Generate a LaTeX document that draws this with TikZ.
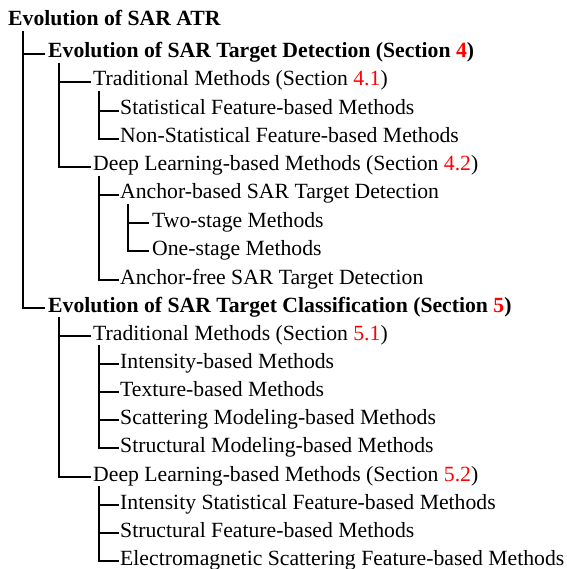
\documentclass[tikz,border=0pt]{standalone}
\usepackage{fontspec}
\setmainfont{Liberation Serif}
\definecolor{secred}{RGB}{255,0,0}
\begin{document}
\begin{tikzpicture}[x=1pt,y=-1pt,
  lbl/.style={anchor=base west, inner sep=0pt, font=\fontsize{21.7}{26}\selectfont},
  bl/.style={lbl, font=\fontsize{21.7}{26}\selectfont\bfseries},
  conn/.style={line width=2pt, line cap=rect}]
\useasboundingbox (0,0) rectangle (566,569);
\def\sec#1{\textcolor{secred}{#1}}
% rows
\node[bl] (r) at (8,26) {Evolution of SAR ATR};
\node[bl] (d) at (48,58) {Evolution of SAR Target Detection (Section \sec{4})};
\node[lbl] (dt) at (93,86) {Traditional Methods (Section \sec{4.1})};
\node[lbl] (dt1) at (120,115) {Statistical Feature-based Methods};
\node[lbl] (dt2) at (120,143) {Non-Statistical Feature-based Methods};
\node[lbl] (dd) at (93,171) {Deep Learning-based Methods (Section \sec{4.2})};
\node[lbl] (dd1) at (120,199) {Anchor-based SAR Target Detection};
\node[lbl] (dd11) at (152,227) {Two-stage Methods};
\node[lbl] (dd12) at (152,255) {One-stage Methods};
\node[lbl] (dd2) at (120,284) {Anchor-free SAR Target Detection};
\node[bl] (c) at (48,312) {Evolution of SAR Target Classification (Section \sec{5})};
\node[lbl] (ct) at (93,340) {Traditional Methods (Section \sec{5.1})};
\node[lbl] (ct1) at (120,368) {Intensity-based Methods};
\node[lbl] (ct2) at (120,396) {Texture-based Methods};
\node[lbl] (ct3) at (120,424) {Scattering Modeling-based Methods};
\node[lbl] (ct4) at (120,452) {Structural Modeling-based Methods};
\node[lbl] (cd) at (93,481) {Deep Learning-based Methods (Section \sec{5.2})};
\node[lbl] (cd1) at (120,509) {Intensity Statistical Feature-based Methods};
\node[lbl] (cd2) at (120,537) {Structural Feature-based Methods};
\node[lbl] (cd3) at (120,565) {Electromagnetic Scattering Feature-based Methods};
% trunk coordinates
\coordinate (v1) at (23,32);
\coordinate (v2a) at (59,64);
\coordinate (v2b) at (59,318);
\coordinate (v3a) at (99,92);
\coordinate (v3b) at (99,177);
\coordinate (v3c) at (99,346);
\coordinate (v3d) at (99,487);
\coordinate (v4) at (128,205);
% level 1
\draw[conn] (v1) |- ([xshift=-4pt,yshift=4pt]c.base west);
\draw[conn] ([yshift=4pt]v1 |- d.base) -- ([xshift=-4pt,yshift=4pt]d.base west);
% level 2 (detection)
\draw[conn] (v2a) |- ([xshift=-3pt,yshift=4pt]dd.base west);
\draw[conn] ([yshift=4pt]v2a |- dt.base) -- ([xshift=-3pt,yshift=4pt]dt.base west);
% level 2 (classification)
\draw[conn] (v2b) |- ([xshift=-3pt,yshift=4pt]cd.base west);
\draw[conn] ([yshift=4pt]v2b |- ct.base) -- ([xshift=-3pt,yshift=4pt]ct.base west);
% level 3
\draw[conn] (v3a) |- ([xshift=-2pt,yshift=4pt]dt2.base west);
\draw[conn] ([yshift=4pt]v3a |- dt1.base) -- ([xshift=-2pt,yshift=4pt]dt1.base west);
\draw[conn] (v3b) |- ([xshift=-2pt,yshift=4pt]dd2.base west);
\draw[conn] ([yshift=4pt]v3b |- dd1.base) -- ([xshift=-2pt,yshift=4pt]dd1.base west);
\draw[conn] (v3c) |- ([xshift=-2pt,yshift=4pt]ct4.base west);
\draw[conn] ([yshift=4pt]v3c |- ct1.base) -- ([xshift=-2pt,yshift=4pt]ct1.base west);
\draw[conn] ([yshift=4pt]v3c |- ct2.base) -- ([xshift=-2pt,yshift=4pt]ct2.base west);
\draw[conn] ([yshift=4pt]v3c |- ct3.base) -- ([xshift=-2pt,yshift=4pt]ct3.base west);
\draw[conn] (v3d) |- ([xshift=-2pt,yshift=4pt]cd3.base west);
\draw[conn] ([yshift=4pt]v3d |- cd1.base) -- ([xshift=-2pt,yshift=4pt]cd1.base west);
\draw[conn] ([yshift=4pt]v3d |- cd2.base) -- ([xshift=-2pt,yshift=4pt]cd2.base west);
% level 4
\draw[conn] (v4) |- ([xshift=-4pt,yshift=4pt]dd12.base west);
\draw[conn] ([yshift=4pt]v4 |- dd11.base) -- ([xshift=-4pt,yshift=4pt]dd11.base west);
\end{tikzpicture}
\end{document}
